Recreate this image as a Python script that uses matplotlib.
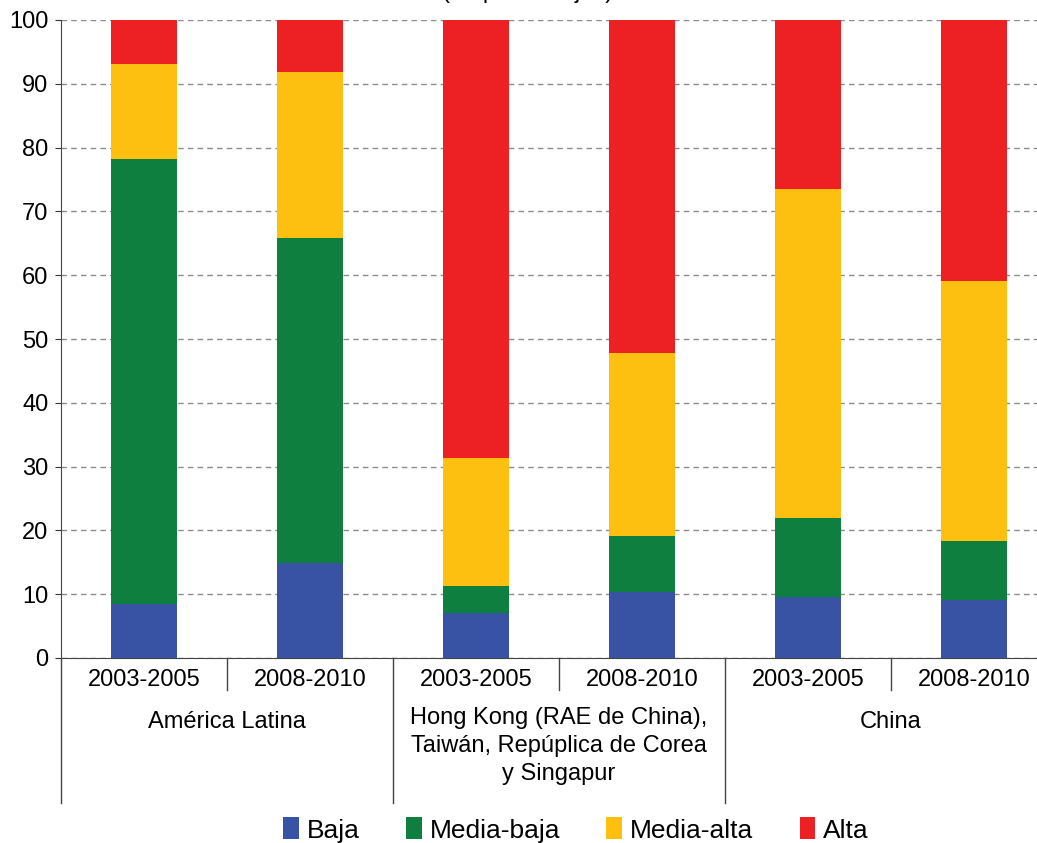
import matplotlib
matplotlib.use('Agg')
import matplotlib.pyplot as plt
import matplotlib.transforms as mtransforms
from matplotlib.patches import Patch

plt.rcParams['font.family'] = ['Liberation Sans', 'DejaVu Sans']

# data (percent of exports by technology intensity)
periods = ['2003-2005', '2008-2010', '2003-2005', '2008-2010', '2003-2005', '2008-2010']
groups = ['América Latina',
          'Hong Kong (RAE de China),\nTaiwán, Repúplica de Corea\ny Singapur',
          'China']
series_names = ['Baja', 'Media-baja', 'Media-alta', 'Alta']
baja = [8.4, 14.9, 7.1, 10.3, 9.6, 9.1]
media_baja = [69.8, 50.9, 4.2, 8.8, 12.3, 9.2]
media_alta = [14.9, 26.0, 20.0, 28.7, 51.6, 40.8]
alta = [6.9, 8.2, 68.7, 52.2, 26.5, 40.9]
colors = ['#3953A4', '#0F7F40', '#FDC010', '#ED2024']

W, H = 1037, 843
fig = plt.figure(figsize=(W / 100, H / 100), dpi=100)
ax = fig.add_axes([61 / W, 1 - 658 / H, 996 / W, 638 / H])

x = list(range(len(periods)))
bottom = [0] * len(x)
for vals, col, name in zip([baja, media_baja, media_alta, alta], colors, series_names):
    ax.bar(x, vals, width=0.4, bottom=bottom, color=col, label=name, zorder=3)
    bottom = [b + v for b, v in zip(bottom, vals)]

ax.set_xlim(-0.5, 5.5)
ax.set_ylim(0, 100)
ax.set_yticks(range(0, 101, 10))
ax.yaxis.grid(True, linestyle=(0, (4, 3)), color='#8c8c8c', linewidth=1, zorder=0)
ax.tick_params(axis='y', labelsize=17, length=4, color='#333333', pad=5)
ax.set_xticks([])
for s in ['top', 'right']:
    ax.spines[s].set_visible(False)
ax.spines['left'].set_color('#444444')
ax.spines['bottom'].set_color('#444444')

# category labels below the axis
tr = mtransforms.blended_transform_factory(ax.transData, fig.transFigure)
fy = lambda py: 1 - py / H
for i, p in enumerate(periods):
    fig.text(i, fy(680), p, transform=tr, ha='center', va='center', fontsize=17)
for xs in [0.5, 2.5, 4.5]:
    ax.plot([xs, xs], [fy(658), fy(690)], transform=tr, color='#444444',
            linewidth=1, clip_on=False)
for xs in [-0.5, 1.5, 3.5, 5.5]:
    ax.plot([xs, xs], [fy(658), fy(803)], transform=tr, color='#444444',
            linewidth=1, clip_on=False)
fig.text(0.5, fy(722), groups[0], transform=tr, ha='center', va='center', fontsize=17)
fig.text(2.5, fy(746), groups[1], transform=tr, ha='center', va='center',
         fontsize=17, linespacing=1.35)
fig.text(4.5, fy(722), groups[2], transform=tr, ha='center', va='center', fontsize=17)

# subtitle, clipped at the top edge as in the source
fig.text(528 / W, 1 + 2 / H, '(en porcentajes)', ha='center', va='baseline', fontsize=17)

handles = [Patch(facecolor=c, edgecolor='none') for c in colors]
fig.legend(handles, series_names, loc='center', bbox_to_anchor=(576 / W, fy(830)),
           ncol=4, frameon=False, fontsize=19, handlelength=0.6, handleheight=0.9,
           handletextpad=0.3, columnspacing=1.75)

fig.savefig('out.png', dpi=100)
